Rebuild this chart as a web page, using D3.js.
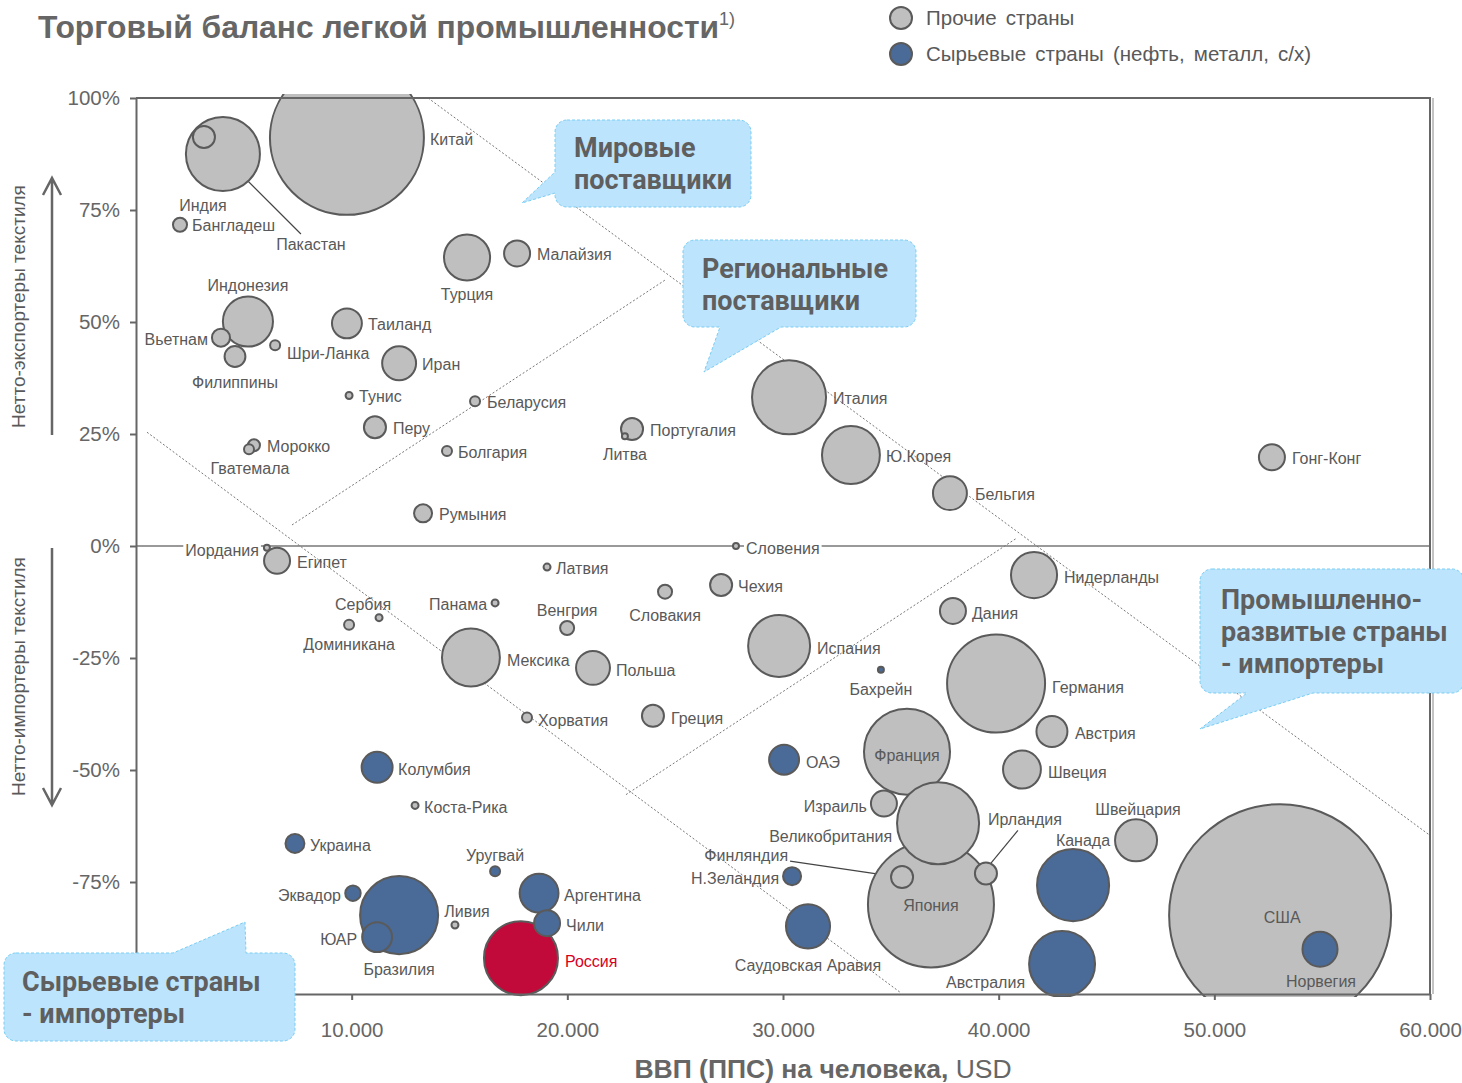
<!DOCTYPE html>
<html>
<head>
<meta charset="utf-8">
<script src="https://cdn.jsdelivr.net/npm/d3@7"></script>
<style>
  body { margin: 0; background: #fff; }
  svg { font-family: "Liberation Sans", Arial, sans-serif; }
</style>
</head>
<body>
<div id="chart-area"></div>
<script>
// страны, ВВП (ППС) на человека, торговый баланс (%), объем торговли (усл. ед.), группа
var countries = ["Китай","Индия","Пакастан","Бангладеш","Индонезия","Вьетнам","Филиппины","Шри-Ланка","Таиланд","Иран",
  "Тунис","Беларусия","Турция","Малайзия","Перу","Морокко","Гватемала","Болгария","Румыния","Иордания",
  "Египет","Сербия","Доминикана","Панама","Латвия","Венгрия","Мексика","Польша","Литва","Португалия",
  "Италия","Ю.Корея","Бельгия","Гонг-Конг","Словения","Нидерланды","Чехия","Словакия","Дания","Испания",
  "Бахрейн","Германия","Греция","Австрия","ОАЭ","Франция","Швеция","Израиль","Великобритания","Япония",
  "Ирландия","Финляндия","Н.Зеландия","Саудовская Аравия","Швейцария","Канада","Австралия","США","Норвегия","Хорватия",
  "Колумбия","Коста-Рика","Украина","Уругвай","Эквадор","Бразилия","ЮАР","Ливия","Аргентина","Чили","Россия"];
var gdp = [9780,4030,3150,2040,5190,3940,4590,6450,9780,12200,
  9880,15720,15350,17670,11080,5470,5240,14420,13310,6070,
  6540,11270,9880,16650,19060,19990,15530,21190,22670,23000,
  30280,33150,37740,52670,27820,41640,27130,24530,37880,29820,
  34540,39880,23970,42470,30050,35750,41080,34680,37190,36860,
  39410,35520,30420,31160,46370,43450,42940,53050,54900,18130,
  11180,12940,7370,16650,10060,12200,11180,14790,18690,19060,17850];
var balance = [91.1,87.5,91.3,71.7,50.1,46.5,42.3,44.8,49.7,40.8,
  33.6,32.3,64.4,65.3,26.5,22.5,21.6,21.2,7.3,-0.4,
  -3.3,-16.0,-17.6,-12.7,-4.7,-18.3,-24.9,-27.2,24.5,26.1,
  33.2,20.3,11.8,19.8,0.0,-6.5,-8.7,-10.2,-14.5,-22.3,
  -27.6,-30.7,-37.9,-41.4,-47.7,-45.9,-49.9,-57.5,-61.9,-80.0,
  -73.1,-73.9,-73.7,-84.9,-65.7,-75.7,-93.3,-82.4,-90.0,-38.3,
  -49.4,-57.9,-66.4,-72.6,-77.5,-82.4,-87.3,-84.6,-77.5,-84.2,-92.0];
var volume = [92.6,21.4,1.9,0.77,9.8,1.27,1.7,0.39,3.5,4.5,
  0.19,0.39,8.3,2.64,1.9,0.56,0.39,0.39,1.27,0.14,
  2.64,0.19,0.39,0.19,0.19,0.77,13.1,4.5,0.14,1.9,
  21.4,13.1,4.5,2.64,0.14,8.3,1.9,0.77,2.64,15.0,
  0.14,37.5,1.9,3.75,3.5,28.9,5.6,2.64,26.3,62,
  1.9,1.9,1.27,7.6,6.9,20.3,17,192.5,4.8,0.39,
  3.75,0.19,1.4,0.39,0.93,23.8,3.5,0.19,5.9,2.64,21.4];
var rawCountries = ["Бахрейн","ОАЭ","Н.Зеландия","Саудовская Аравия","Канада","Австралия","Норвегия",
  "Колумбия","Украина","Уругвай","Эквадор","Бразилия","ЮАР","Аргентина","Чили"];
var highlight = "Россия";

var xTicks = [10000,20000,30000,40000,50000,60000];
var yTicks = [-100,-75,-50,-25,0,25,50,75,100];

var legendItems = ["Прочие страны","Сырьевые страны (нефть, металл, с/х)"];
var callouts = [
  {lines: ["Мировые","поставщики"]},
  {lines: ["Региональные","поставщики"]},
  {lines: ["Промышленно-","развитые страны","- импортеры"]},
  {lines: ["Сырьевые страны","- импортеры"]}
];

// разметка подписей: [dx, dy, anchor] от центра круга
var labelPos = {
  "Китай":[83,1,"start"],"Индия":[-20,51,"middle"],"Пакастан":[107,107,"middle"],"Бангладеш":[12,0,"start"],
  "Индонезия":[0,-37,"middle"],"Вьетнам":[-13,1,"end"],"Филиппины":[0,26,"middle"],"Шри-Ланка":[12,8,"start"],
  "Таиланд":[21,1,"start"],"Иран":[23,1,"start"],"Тунис":[10,1,"start"],"Беларусия":[12,1,"start"],
  "Турция":[0,37,"middle"],"Малайзия":[20,1,"start"],"Перу":[18,1,"start"],"Морокко":[13,1,"start"],
  "Гватемала":[1,19,"middle"],"Болгария":[11,1,"start"],"Румыния":[16,1,"start"],"Иордания":[-8,2,"end"],
  "Египет":[20,1,"start"],"Сербия":[-16,-14,"middle"],"Доминикана":[0,19,"middle"],"Панама":[-8,1,"end"],
  "Латвия":[9,1,"start"],"Венгрия":[0,-18,"middle"],"Мексика":[36,2,"start"],"Польша":[23,2,"start"],
  "Литва":[0,18,"middle"],"Португалия":[18,1,"start"],"Италия":[44,1,"start"],"Ю.Корея":[35,1,"start"],
  "Бельгия":[25,1,"start"],"Гонг-Конг":[20,1,"start"],"Словения":[10,2,"start"],"Нидерланды":[30,2,"start"],
  "Чехия":[17,1,"start"],"Словакия":[0,23,"middle"],"Дания":[19,2,"start"],"Испания":[38,2,"start"],
  "Бахрейн":[0,19,"middle"],"Германия":[56,3,"start"],"Греция":[18,2,"start"],"Австрия":[23,2,"start"],
  "ОАЭ":[22,2,"start"],"Франция":[0,3,"middle"],"Швеция":[26,2,"start"],"Израиль":[-17,2,"end"],
  "Великобритания":[-46,13,"end"],"Япония":[0,1,"middle"],"Ирландия":[39,-54,"middle"],"Финляндия":[-114,-22,"end"],
  "Н.Зеландия":[-13,2,"end"],"Саудовская Аравия":[0,39,"middle"],"Швейцария":[2,-31,"middle"],"Канада":[37,-45,"end"],
  "Австралия":[-37,18,"end"],"США":[2,2,"middle"],"Норвегия":[1,32,"middle"],"Хорватия":[11,2,"start"],
  "Колумбия":[21,2,"start"],"Коста-Рика":[9,2,"start"],"Украина":[15,2,"start"],"Уругвай":[0,-16,"middle"],
  "Эквадор":[-12,2,"end"],"Бразилия":[0,54,"middle"],"ЮАР":[-20,2,"end"],"Ливия":[12,-14,"middle"],
  "Аргентина":[25,2,"start"],"Чили":[19,2,"start"],"Россия":[44,3,"start"]
};
var leaders = {"Пакастан":[8,8,97,97],"Ирландия":[32,-43,4,-9],"Финляндия":[-112,-16,-10,-1]};
var whiteBg = ["Иордания","Словения"];

// разделительные пунктиры, в координатах данных
var guides = [
  [[13540,100],[60000,-64.6]],
  [[510,25.4],[35425,-99.6]],
  [[7233,4.7],[24575,59.5]],
  [[22720,-55.5],[40850,1.8]]
];

var width = 1462, height = 1083;
var pL = 136, pR = 1430, pT = 98, pB = 994;
var textCol = "#595959", strokeCol = "#5a5a5a";
var fills = {other: "#bfbfbf", raw: "#4a6a98", russia: "#c20a3a"};

var svg = d3.select("#chart-area").append("svg")
  .attr("width", width).attr("height", height);

var x = d3.scaleLinear().domain([0, 60000]).range([pL, pR]);
var y = d3.scaleLinear().domain([-100, 100]).range([pB, pT]);
var r = d3.scaleSqrt().domain([0, 100]).range([0, 80]);

var data = countries.map(function(c, i){
  return {name: c, gdp: gdp[i], bal: balance[i], vol: volume[i],
    group: c === highlight ? "russia" : (rawCountries.indexOf(c) >= 0 ? "raw" : "other")};
});
data.sort(function(a, b){ return b.vol - a.vol; });

// title
var title = svg.append("text").attr("x", 38).attr("y", 38)
  .attr("font-size", "31.8px").attr("font-weight", "bold").style("fill", "#666");
title.append("tspan").text("Торговый баланс легкой промышленности");
title.append("tspan").attr("font-size", "18px").attr("font-weight", "normal").attr("dy", -13).text("1)");

// legend
legendItems.forEach(function(t, i){
  svg.append("circle").attr("cx", 901).attr("cy", 18 + i * 36).attr("r", 11)
    .style("fill", i === 0 ? fills.other : fills.raw).style("stroke", strokeCol).style("stroke-width", 2);
  svg.append("text").attr("x", 926).attr("y", 25 + i * 36).attr("font-size", "20.5px")
    .style("fill", textCol).style("word-spacing", "3.5px").text(t);
});

// zero line
svg.append("line").attr("x1", pL).attr("x2", pR).attr("y1", y(0)).attr("y2", y(0))
  .style("stroke", "#999").style("stroke-width", 2);

// guides
var g = svg.append("g");
guides.forEach(function(s){
  g.append("line").attr("x1", x(s[0][0])).attr("y1", y(s[0][1]))
    .attr("x2", x(s[1][0])).attr("y2", y(s[1][1]))
    .style("stroke", "#777").style("stroke-width", 1).style("stroke-dasharray", "2,2");
});

svg.append("clipPath").attr("id", "plotclip").append("rect")
  .attr("x", pL).attr("y", pT - 4).attr("width", pR - pL).attr("height", pB - pT + 7);

// leaders
Object.keys(leaders).forEach(function(k){
  var d = data.find(function(e){ return e.name === k; });
  var l = leaders[k];
  svg.append("line").attr("x1", x(d.gdp) + l[0]).attr("y1", y(d.bal) + l[1])
    .attr("x2", x(d.gdp) + l[2]).attr("y2", y(d.bal) + l[3])
    .style("stroke", "#444").style("stroke-width", 1.2);
});

// bubbles
svg.append("g").attr("clip-path", "url(#plotclip)")
  .selectAll("circle").data(data).enter().append("circle")
  .attr("cx", function(d){ return x(d.gdp); })
  .attr("cy", function(d){ return y(d.bal); })
  .attr("r", function(d){ return r(d.vol); })
  .style("fill", function(d){ return fills[d.group]; })
  .style("stroke", strokeCol).style("stroke-width", 2);

// labels
var lab = svg.append("g").attr("font-size", "16px");
data.forEach(function(d){
  var p = labelPos[d.name];
  var t = lab.append("text")
    .attr("x", x(d.gdp) + p[0]).attr("y", y(d.bal) + p[1] + 6)
    .attr("text-anchor", p[2])
    .style("fill", d.group === "russia" ? "#d8001c" : textCol)
    .text(d.name);
  if (whiteBg.indexOf(d.name) >= 0) {
    var b = t.node().getBBox();
    lab.insert("rect", function(){ return t.node(); })
      .attr("x", b.x - 2).attr("y", b.y).attr("width", b.width + 4).attr("height", b.height)
      .style("fill", "#fff");
  }
});

// axes
var xAxis = svg.append("g").attr("transform", "translate(0," + pB + ")")
  .call(d3.axisBottom(x).tickValues(xTicks).tickSize(6).tickSizeOuter(0).tickPadding(22)
    .tickFormat(function(d){ return d3.format(",")(d).replace(",", "."); }));
var yAxis = svg.append("g").attr("transform", "translate(" + pL + ",0)")
  .call(d3.axisLeft(y).tickValues(yTicks).tickSize(6).tickSizeOuter(0).tickPadding(10)
    .tickFormat(function(d){ return d === -100 ? "" : d + "%"; }));
[xAxis, yAxis].forEach(function(a){
  a.select(".domain").style("stroke", "#666").style("stroke-width", 2);
  a.selectAll(".tick line").style("stroke", "#666").style("stroke-width", 2);
  a.selectAll(".tick text").attr("font-size", "20.5px").style("fill", "#666")
    .style("font-family", "'Liberation Sans', Arial, sans-serif");
});

// frame top/right
svg.append("path").attr("d", "M" + pL + "," + pT + "H" + pR + "V" + pB)
  .style("fill", "none").style("stroke", "#666").style("stroke-width", 2);
svg.append("line").attr("x1", pR + 3).attr("x2", pR + 3).attr("y1", pT).attr("y2", pB)
  .style("stroke", "#888").style("stroke-width", 1);

// x title
var xt = svg.append("text").attr("x", 823).attr("y", 1078).attr("text-anchor", "middle")
  .attr("font-size", "26.5px").style("fill", "#666");
xt.append("tspan").attr("font-weight", "bold").text("ВВП (ППС) на человека,");
xt.append("tspan").text(" USD");

// y side labels + arrows
function sideLabel(txt, y0, y1, up){
  var mid = (y0 + y1) / 2;
  svg.append("text").attr("transform", "translate(25," + mid + ") rotate(-90)")
    .attr("text-anchor", "middle").attr("font-size", "19px").style("fill", textCol).text(txt);
  var tip = up ? y0 : y1, tail = up ? y1 : y0, s = up ? 1 : -1;
  svg.append("path")
    .attr("d", "M52," + tail + "V" + tip + "M43," + (tip + 17 * s) + "L52," + tip + "L61," + (tip + 17 * s))
    .style("fill", "none").style("stroke", "#666").style("stroke-width", 2.5);
}
sideLabel("Нетто-экспортеры текстиля", 178, 435, true);
sideLabel("Нетто-импортеры текстиля", 548, 805, false);

// callouts
function calloutPath(bx, by, w, h, rr, side, p1, p2, tip){
  var p = d3.path();
  p.moveTo(bx + rr, by);
  if (side === "top") { p.lineTo(p1, by); p.lineTo(tip[0], tip[1]); p.lineTo(p2, by); }
  p.lineTo(bx + w - rr, by); p.arcTo(bx + w, by, bx + w, by + rr, rr);
  p.lineTo(bx + w, by + h - rr); p.arcTo(bx + w, by + h, bx + w - rr, by + h, rr);
  if (side === "bottom") { p.lineTo(p2, by + h); p.lineTo(tip[0], tip[1]); p.lineTo(p1, by + h); }
  p.lineTo(bx + rr, by + h); p.arcTo(bx, by + h, bx, by + h - rr, rr);
  if (side === "left") { p.lineTo(bx, p2); p.lineTo(tip[0], tip[1]); p.lineTo(bx, p1); }
  p.lineTo(bx, by + rr); p.arcTo(bx, by, bx + rr, by, rr);
  p.closePath();
  return p.toString();
}
var boxes = [
  [555, 120, 196, 87, "left", 172, 193, [522, 203], 574, 157],
  [683, 240, 233, 87, "bottom", 720, 781, [704, 372], 702, 278],
  [1200, 569, 264, 124, "bottom", 1247, 1313, [1200, 729], 1221, 609],
  [4, 953, 291, 88, "top", 173, 246, [245, 922], 22, 991]
];
callouts.forEach(function(c, i){
  var b = boxes[i];
  svg.append("path").attr("d", calloutPath(b[0], b[1], b[2], b[3], 12, b[4], b[5], b[6], b[7]))
    .style("fill", "#bde4fd").style("stroke", "#79cdf3").style("stroke-width", 1)
    .style("stroke-dasharray", "3,2");
  c.lines.forEach(function(t, j){
    svg.append("text").attr("x", b[8]).attr("y", b[9] + j * 32)
      .attr("font-size", "27px").attr("font-weight", "bold")
      .style("font-family", "Roboto, 'Open Sans', sans-serif")
      .style("fill", "#5f5f5f").text(t);
  });
});
</script>
</body>
</html>
